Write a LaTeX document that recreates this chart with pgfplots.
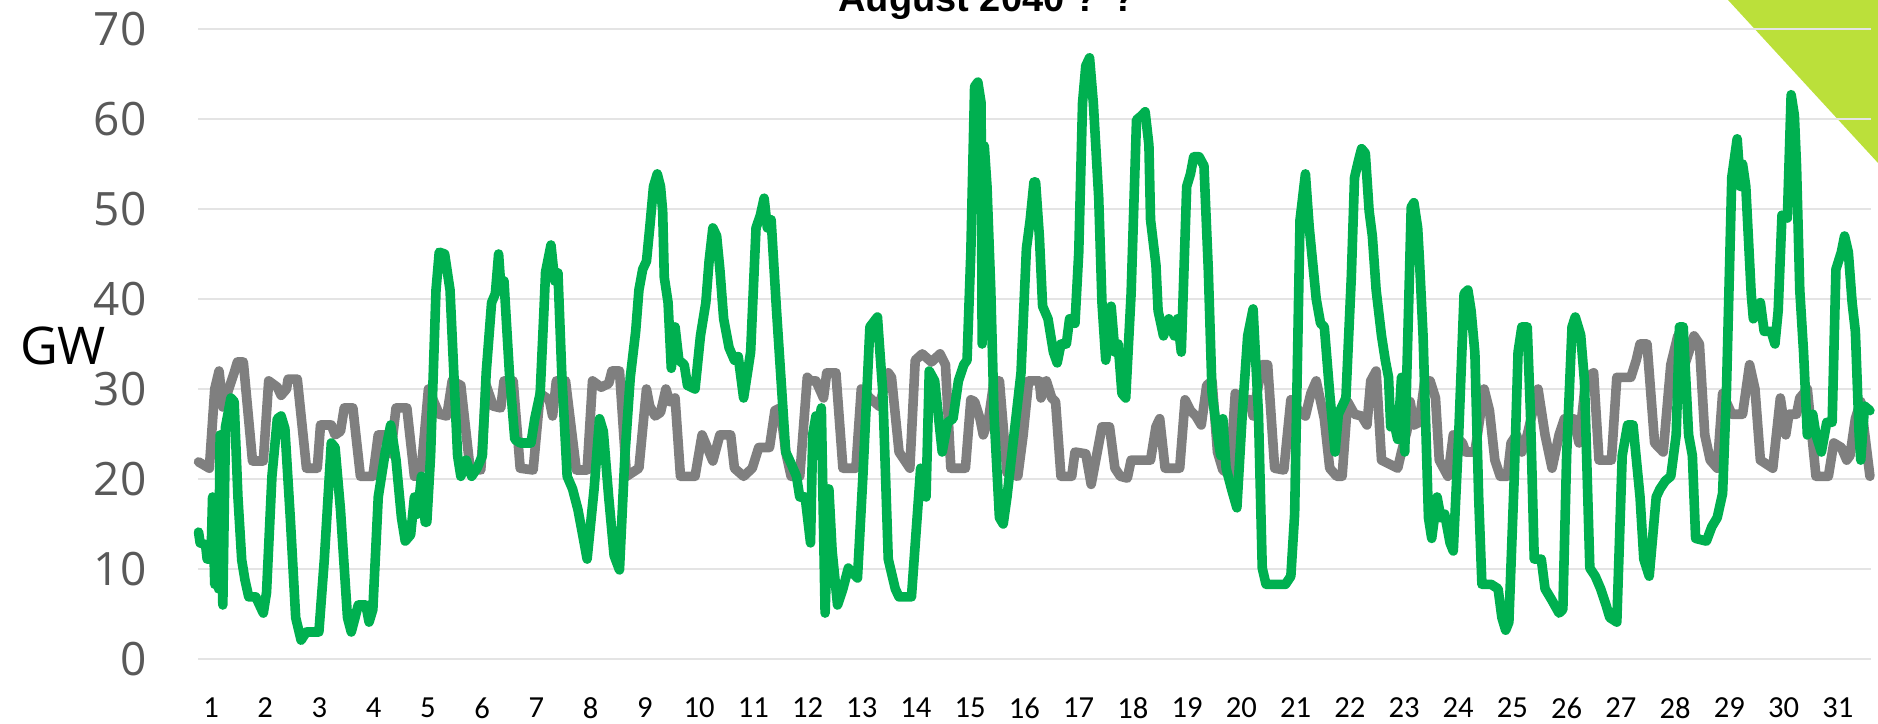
\documentclass[border=0pt]{standalone}
\usepackage{pgfplots}
\pgfplotsset{compat=1.18}
\usepackage{fontspec}
\setmainfont{Open Sans}
\newfontfamily\carlito{Carlito}
\newfontfamily\libsans{Liberation Sans}
\definecolor{windgreen}{RGB}{0,176,80}
\definecolor{loadgray}{RGB}{127,127,127}
\definecolor{gridgray}{RGB}{228,228,228}
\definecolor{ticklab}{RGB}{89,89,89}
\definecolor{trigreen}{RGB}{187,224,58}
\begin{document}
\begin{tikzpicture}
\path[use as bounding box] (0,0) rectangle (939pt,361.5pt);
\fill[trigreen] (864pt,361.5pt) -- (939pt,361.5pt) -- (939pt,280pt) -- cycle;
\begin{axis}[
  at={(99pt,32pt)}, anchor=south west,
  scale only axis, width=836.5pt, height=315pt,
  xmin=0, xmax=31, ymin=0, ymax=70,
  axis line style={draw=none}, tick style={draw=none},
  ytick={0,10,...,70},
  ymajorgrids, grid style={line width=1pt, color=gridgray},
  xtick={0.241,1.246,2.251,3.255,4.260,5.265,6.270,7.275,8.279,9.284,10.289,11.294,12.299,13.303,14.308,15.313,16.318,17.323,18.327,19.332,20.337,21.342,22.347,23.351,24.356,25.361,26.366,27.371,28.375,29.380,30.385},
  xticklabels={1,2,3,4,5,6,7,8,9,10,11,12,13,14,15,16,17,18,19,20,21,22,23,24,25,26,27,28,29,30,31},
  /pgf/number format/assume math mode=true,
  yticklabel style={font=\fontsize{23}{26}\selectfont, text=ticklab, anchor=east, inner sep=0pt, xshift=-25.5pt},
  xticklabel style={font=\carlito\fontsize{15.3}{18}\selectfont, text=black, anchor=north, inner sep=0pt, yshift=-19pt},
  clip=false,
]
\addplot[color=loadgray, line width=4.8pt, line join=round, line cap=round] coordinates {
(0.01,21.9)(0.21,21.2)(0.31,30)(0.39,32)(0.46,28)(0.57,30)(0.67,31.8)(0.73,33)(0.84,33)(1.01,22)(1.21,22)(1.31,30.9)(1.47,30.2)(1.54,29.3)(1.64,30)(1.67,31.1)(1.84,31.1)(2.01,21.2)(2.21,21.2)(2.27,26)(2.47,26)(2.54,24.9)(2.64,25.3)(2.71,27.9)(2.87,27.9)(3.01,20.3)(3.24,20.3)(3.34,24.9)(3.47,24.9)(3.57,22.8)(3.67,27.9)(3.87,27.9)(4.01,20.3)(4.14,21.2)(4.27,30)(4.47,27.2)(4.61,27)(4.71,30.9)(4.87,30.4)(5.04,21.2)(5.24,21)(5.34,30.4)(5.47,28.1)(5.61,27.9)(5.67,30.9)(5.84,30.9)(5.97,21.2)(6.21,21)(6.34,29.5)(6.51,28.8)(6.57,27)(6.64,30.9)(6.81,30.9)(7.01,21)(7.21,21)(7.31,30.9)(7.47,30.2)(7.61,30.6)(7.67,32)(7.81,32)(7.94,20.3)(8.17,21.2)(8.31,30)(8.37,28.1)(8.47,27)(8.57,27.4)(8.67,30)(8.74,28.6)(8.84,29)(8.94,20.3)(9.21,20.3)(9.34,24.9)(9.54,22)(9.67,24.9)(9.87,24.9)(9.94,21.2)(10.11,20.3)(10.27,21.2)(10.39,23.5)(10.59,23.5)(10.69,27.6)(10.79,27.9)(10.89,23)(10.99,20.3)(11.15,20.3)(11.29,31.3)(11.35,30.9)(11.45,30.9)(11.59,29)(11.65,31.8)(11.82,31.8)(11.95,21.2)(12.19,21.2)(12.29,30)(12.45,29)(12.62,28.1)(12.79,31.8)(12.85,31.3)(12.99,23)(13.09,22.1)(13.19,21.2)(13.29,33.2)(13.42,33.9)(13.59,33)(13.75,33.9)(13.85,32.7)(13.95,21.2)(14.22,21.2)(14.32,28.8)(14.39,28.6)(14.49,26.7)(14.55,24.9)(14.65,26.7)(14.75,30.9)(14.85,30.9)(14.99,20.7)(15.19,20.3)(15.29,24.9)(15.39,30.9)(15.59,30.9)(15.62,29)(15.72,30.9)(15.82,29)(15.89,28.6)(15.99,20.3)(16.19,20.3)(16.25,23)(16.45,22.8)(16.55,19.4)(16.65,22.6)(16.75,25.8)(16.89,25.8)(16.99,21.2)(17.09,20.3)(17.22,20.1)(17.29,22.1)(17.65,22.1)(17.75,25.8)(17.82,26.7)(17.92,21.2)(18.19,21.2)(18.29,28.8)(18.39,27.6)(18.49,27)(18.59,26)(18.69,30.4)(18.79,30.9)(18.89,23)(18.99,21)(19.12,20.5)(19.22,29.5)(19.32,29)(19.49,28.8)(19.55,27)(19.62,29.5)(19.72,32.7)(19.82,32.7)(19.95,21.2)(20.12,21)(20.25,28.8)(20.42,27.4)(20.52,27)(20.62,29.5)(20.72,30.9)(20.87,26.7)(20.97,21.2)(21.10,20.3)(21.20,20.3)(21.30,28.6)(21.43,27.2)(21.56,27)(21.66,26)(21.73,30.9)(21.83,32)(21.93,22.1)(22.23,21.2)(22.30,23)(22.40,25.3)(22.46,28.6)(22.53,26)(22.63,26.3)(22.73,30.9)(22.83,30.9)(22.93,29)(23.00,22.1)(23.16,20.3)(23.26,24.9)(23.43,24)(23.49,23)(23.66,23)(23.83,30)(23.93,27.6)(24.03,22.1)(24.13,20.3)(24.26,20.3)(24.33,24)(24.43,24.9)(24.53,23)(24.63,24.9)(24.83,30)(24.96,24.9)(25.09,21.2)(25.22,24.9)(25.32,26.7)(25.49,26.7)(25.59,24)(25.72,31.3)(25.86,31.8)(25.96,22.1)(26.19,22.1)(26.29,31.3)(26.55,31.3)(26.65,33.2)(26.72,35)(26.85,35)(26.99,24)(27.15,23)(27.29,32.7)(27.42,35.9)(27.55,32.7)(27.72,35.9)(27.82,35)(27.92,24.9)(28.02,22.1)(28.15,21.2)(28.25,29.5)(28.42,27.2)(28.62,27.2)(28.75,32.7)(28.85,30)(28.95,22.1)(29.18,21.2)(29.32,29)(29.42,24.9)(29.48,27.2)(29.62,27.2)(29.68,29)(29.82,30)(29.98,20.3)(30.21,20.3)(30.31,24)(30.45,23.5)(30.55,22.1)(30.61,22.6)(30.71,26.7)(30.81,28.6)(30.98,20.3)
};
\addplot[color=windgreen, line width=4.8pt, line join=round, line cap=round] coordinates {
(0.01,14.1)(0.04,12.9)(0.14,12.7)(0.17,11.1)(0.24,11.1)(0.27,18)(0.31,8.3)(0.35,18)(0.38,7.8)(0.41,24.9)(0.46,6)(0.51,25.8)(0.61,29)(0.67,28.6)(0.74,18)(0.81,11)(0.87,8.8)(0.94,6.9)(1.07,6.9)(1.14,6)(1.21,5.1)(1.27,7.4)(1.37,20.3)(1.47,26.7)(1.54,27)(1.61,25.6)(1.71,15.7)(1.81,4.6)(1.91,2.1)(2.01,3)(2.24,3)(2.34,11)(2.47,24)(2.54,23.5)(2.64,16.6)(2.77,4.6)(2.84,3)(2.91,4.6)(2.97,6)(3.11,6)(3.17,4.1)(3.24,5.5)(3.34,18)(3.47,23)(3.57,26)(3.67,22.1)(3.77,15.7)(3.84,13.1)(3.94,13.8)(4.01,18)(4.07,16.1)(4.14,20.3)(4.21,15.2)(4.24,15.2)(4.31,22.6)(4.41,41)(4.47,45.2)(4.57,45)(4.67,41)(4.74,31.8)(4.81,22.6)(4.87,20.3)(4.97,22.1)(5.07,20.3)(5.17,21.2)(5.27,22.6)(5.34,31.8)(5.44,39.6)(5.51,40.6)(5.57,45)(5.61,41.5)(5.67,42)(5.77,31.8)(5.87,24.4)(5.97,24)(6.17,24)(6.24,26.7)(6.34,29.5)(6.41,38.7)(6.44,43)(6.54,46)(6.61,42)(6.67,42.9)(6.74,31.8)(6.84,20.3)(6.94,18.9)(7.04,16.6)(7.14,13.4)(7.21,11.1)(7.34,18.9)(7.44,26.7)(7.51,25.3)(7.61,18)(7.71,11.5)(7.81,9.9)(7.91,22.6)(8.01,31.3)(8.11,36.4)(8.17,41)(8.24,43.3)(8.31,44.2)(8.37,47.9)(8.44,52.5)(8.51,53.9)(8.57,52.5)(8.61,49.8)(8.64,42.4)(8.71,39.6)(8.77,32.3)(8.84,36.9)(8.91,33.2)(9.01,32.7)(9.07,30.4)(9.21,30)(9.31,35.9)(9.41,39.6)(9.47,44.2)(9.54,47.9)(9.61,47)(9.67,43.3)(9.74,37.8)(9.84,34.6)(9.94,33.2)(10.01,33.6)(10.11,29)(10.24,34.1)(10.34,47.9)(10.42,49.3)(10.49,51.2)(10.55,47.9)(10.62,48.8)(10.72,38.7)(10.82,29.5)(10.89,23)(10.99,21.7)(11.09,20.3)(11.15,18)(11.25,18)(11.35,12.9)(11.39,24.9)(11.45,27)(11.52,26.7)(11.55,27.9)(11.62,5.1)(11.69,18.9)(11.75,12)(11.85,6)(11.95,7.8)(12.05,10.1)(12.22,9)(12.32,20.3)(12.45,36.9)(12.59,38)(12.69,29.5)(12.79,11.1)(12.92,7.8)(12.99,6.9)(13.22,6.9)(13.39,21.2)(13.49,18)(13.55,32)(13.65,30.9)(13.79,23)(13.89,26.3)(13.99,26.7)(14.09,30.9)(14.19,32.7)(14.25,33.2)(14.32,45.2)(14.39,63.6)(14.45,64.1)(14.51,61.8)(14.53,35)(14.57,57)(14.62,52.5)(14.69,41)(14.75,27.2)(14.85,15.7)(14.92,15)(14.99,18)(15.12,24.9)(15.25,31.8)(15.35,45.6)(15.42,48.8)(15.49,53)(15.52,53)(15.59,47)(15.65,39.2)(15.75,37.8)(15.85,34.1)(15.92,32.9)(15.99,35)(16.09,35)(16.15,37.8)(16.25,37.3)(16.32,45.2)(16.39,61.8)(16.45,65.9)(16.52,66.8)(16.59,61.8)(16.69,51.2)(16.75,39.6)(16.82,33.2)(16.92,39.2)(16.99,34.1)(17.05,35)(17.12,29.5)(17.19,29)(17.29,40.6)(17.39,59.9)(17.49,60.4)(17.55,60.8)(17.62,57.1)(17.65,48.8)(17.75,43.8)(17.79,38.7)(17.89,35.9)(17.99,37.8)(18.09,35.9)(18.15,37.8)(18.22,34.1)(18.32,52.5)(18.39,53.9)(18.45,55.8)(18.55,55.8)(18.64,54.8)(18.72,43.3)(18.79,29.5)(18.89,24.9)(18.95,22.6)(18.99,26.7)(19.05,21.2)(19.15,18.9)(19.25,16.8)(19.35,27.2)(19.45,35.9)(19.55,38.9)(19.65,27.2)(19.72,10.1)(19.79,8.3)(20.15,8.3)(20.25,9.2)(20.32,16.1)(20.42,48.8)(20.52,53.9)(20.59,48)(20.72,40)(20.80,37.3)(20.87,36.9)(20.97,29.5)(21.07,23)(21.13,27.2)(21.20,28.1)(21.27,29)(21.37,42.4)(21.43,53.5)(21.50,55.3)(21.56,56.7)(21.63,56.2)(21.70,49.8)(21.76,47)(21.83,41)(21.93,35.9)(22.00,33.2)(22.06,31.3)(22.10,25.8)(22.16,26.3)(22.23,24.4)(22.30,31.3)(22.36,23)(22.43,38.7)(22.48,50.2)(22.53,50.7)(22.60,47.9)(22.63,44.7)(22.70,35.9)(22.80,15.7)(22.86,13.4)(22.96,18)(23.03,15.7)(23.10,16.1)(23.20,12.9)(23.26,12)(23.36,24.9)(23.46,40.6)(23.53,41)(23.59,38.7)(23.66,34)(23.73,18)(23.79,8.3)(23.96,8.3)(24.09,7.8)(24.16,4.6)(24.23,3.2)(24.29,4.1)(24.39,20.3)(24.46,34.1)(24.53,36.9)(24.63,36.9)(24.69,27.2)(24.76,11.1)(24.89,11.1)(24.96,7.8)(25.09,6.5)(25.22,5.1)(25.29,5.5)(25.36,22.6)(25.46,36.9)(25.52,38)(25.62,36)(25.69,30.9)(25.79,10.1)(25.89,9.2)(25.99,7.8)(26.09,6)(26.16,4.6)(26.29,4.1)(26.39,22.6)(26.49,26)(26.59,26)(26.72,18)(26.79,11.1)(26.89,9.2)(27.02,18)(27.09,18.9)(27.19,19.8)(27.29,20.3)(27.39,24.9)(27.45,36.9)(27.52,36.9)(27.62,24.9)(27.69,22.6)(27.75,13.4)(27.95,13.1)(28.05,14.7)(28.15,15.7)(28.25,18.4)(28.32,29.5)(28.42,53.5)(28.52,57.8)(28.58,52.5)(28.62,55)(28.68,52.5)(28.78,40.6)(28.82,37.8)(28.95,39.6)(29.02,36.4)(29.15,36.4)(29.22,35)(29.28,38.7)(29.35,49.3)(29.45,49)(29.52,62.7)(29.58,60.4)(29.62,54.8)(29.68,41)(29.75,34.1)(29.82,24.9)(29.92,27.2)(29.98,24.9)(30.08,23)(30.18,26.3)(30.28,26.3)(30.35,43.3)(30.45,45.2)(30.51,47)(30.58,45.2)(30.65,39.6)(30.71,36.4)(30.78,24.9)(30.81,22.1)(30.88,28.1)(30.98,27.6)
};
\end{axis}
\node[font=\libsans\bfseries\fontsize{19}{22}\selectfont, anchor=base] at (493.5pt,355.5pt) {August 2040 ? ?};
\node[font=\fontsize{26}{30}\selectfont, inner sep=0pt] at (31.5pt,188.5pt) {GW};
\end{tikzpicture}
\end{document}
